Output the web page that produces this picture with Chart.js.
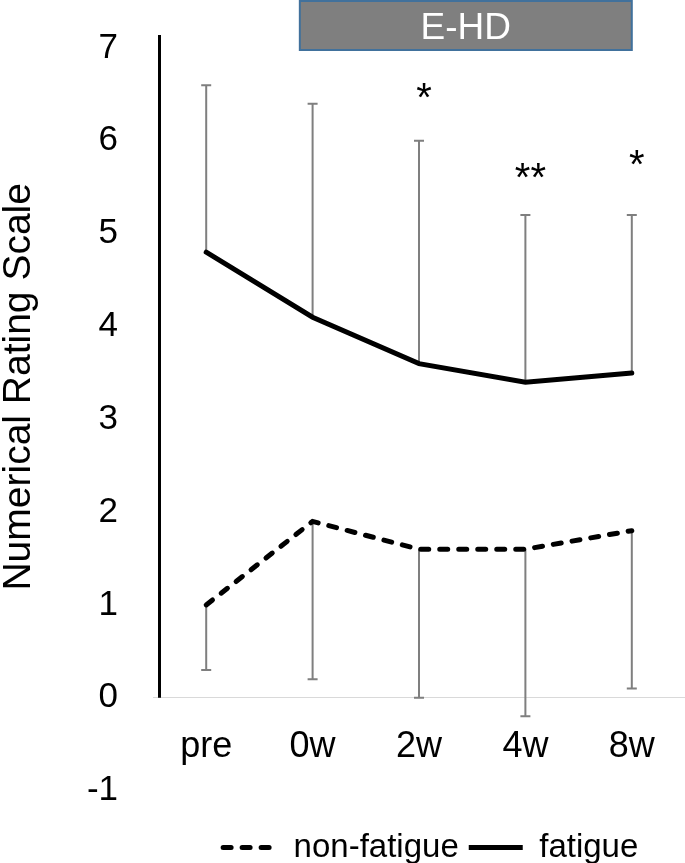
<!DOCTYPE html>
<html>
<head>
<meta charset="utf-8">
<script src="https://cdn.jsdelivr.net/npm/chart.js@4.4.1/dist/chart.umd.min.js"></script>
<style>
html, body { margin: 0; padding: 0; background: #fff; }
</style>
</head>
<body>
<canvas id="chart" width="685" height="863"></canvas>
<script>
const categories = ['pre', '0w', '2w', '4w', '8w'];
const fatigue = [4.8, 4.1, 3.6, 3.4, 3.5];
const fatigueUpper = [6.6, 6.4, 6.0, 5.2, 5.2];
const nonFatigue = [1.0, 1.9, 1.6, 1.6, 1.8];
const nonFatigueLower = [0.3, 0.2, 0.0, -0.2, 0.1];
const sigMarks = ['', '', '*', '**', '*'];
const sigLevel = [null, null, 6.52, 5.65, 5.79];
const yMin = -1, yMax = 7;

const FONT = '"Liberation Sans", Arial, sans-serif';

// error bars: fatigue up, non-fatigue down
const errorBars = {
    id: 'errorBars',
    beforeDatasetsDraw(chart) {
        const ctx = chart.ctx;
        const x = chart.scales.x, y = chart.scales.y;
        ctx.save();
        ctx.strokeStyle = '#7f7f7f';
        ctx.lineWidth = 2;
        const bar = (i, from, to) => {
            const px = x.getPixelForValue(i);
            const y0 = y.getPixelForValue(from), y1 = y.getPixelForValue(to);
            ctx.beginPath();
            ctx.moveTo(px, y0);
            ctx.lineTo(px, y1);
            ctx.moveTo(px - 5, y1);
            ctx.lineTo(px + 5, y1);
            ctx.stroke();
        };
        for (let i = 0; i < categories.length; i++) {
            bar(i, fatigue[i], fatigueUpper[i]);
            bar(i, nonFatigue[i], nonFatigueLower[i]);
        }
        ctx.restore();
    }
};

// y axis line, E-HD band and significance marks
const extras = {
    id: 'extras',
    afterDraw(chart) {
        const ctx = chart.ctx;
        const x = chart.scales.x, y = chart.scales.y;
        const area = chart.chartArea;
        ctx.save();
        // vertical axis line from 0 up
        ctx.strokeStyle = '#000';
        ctx.lineWidth = 3;
        ctx.beginPath();
        ctx.moveTo(area.left + 6.5, y.getPixelForValue(0));
        ctx.lineTo(area.left + 6.5, area.top - 13);
        ctx.stroke();

        // E-HD box
        const bx0 = x.getPixelForValue(0.88), bx1 = x.getPixelForValue(4);
        ctx.fillStyle = '#7f7f7f';
        ctx.fillRect(bx0, 1, bx1 - bx0, 49);
        ctx.strokeStyle = '#41719c';
        ctx.lineWidth = 2;
        ctx.strokeRect(bx0, 1, bx1 - bx0, 49);
        ctx.fillStyle = '#fff';
        ctx.font = '37px ' + FONT;
        ctx.textAlign = 'center';
        ctx.textBaseline = 'alphabetic';
        ctx.fillText('E-HD', (bx0 + bx1) / 2, 39);

        // asterisks
        ctx.fillStyle = '#000';
        ctx.font = '40px ' + FONT;
        for (let i = 0; i < categories.length; i++) {
            if (!sigMarks[i]) continue;
            const px = x.getPixelForValue(i) + 5;
            const py = y.getPixelForValue(sigLevel[i]);
            ctx.fillText(sigMarks[i], px, py + 18);
        }
        ctx.restore();
    }
};

new Chart(document.getElementById('chart'), {
    type: 'line',
    data: {
        labels: categories,
        datasets: [
            {
                label: 'non-fatigue',
                data: nonFatigue,
                borderColor: '#000',
                backgroundColor: '#000',
                borderWidth: 5,
                borderDash: [8, 11],
                borderCapStyle: 'round',
                pointRadius: 0,
                tension: 0
            },
            {
                label: 'fatigue',
                data: fatigue,
                borderColor: '#000',
                backgroundColor: '#000',
                borderWidth: 5,
                borderCapStyle: 'round',
                pointRadius: 0,
                tension: 0
            }
        ]
    },
    options: {
        responsive: false,
        animation: false,
        layout: { padding: { top: 48, right: 0, bottom: -11, left: 0 } },
        scales: {
            x: {
                type: 'category',
                offset: true,
                position: { y: 0 },
                grid: { display: false, drawTicks: false },
                border: { display: true, color: '#d9d9d9', width: 1 },
                ticks: { color: '#000', font: { size: 36, family: FONT }, padding: 28 }
            },
            y: {
                min: yMin,
                max: yMax,
                grid: { display: false, drawTicks: false },
                border: { display: false },
                ticks: { stepSize: 1, color: '#000', font: { size: 35, family: FONT, lineHeight: 0.7 }, padding: 35 },
                title: {
                    display: true,
                    text: '      Numerical Rating Scale',
                    color: '#000',
                    font: { size: 39, family: FONT, lineHeight: 1 },
                    padding: 0
                },
                afterFit(scale) { scale.width = 153; }
            }
        },
        plugins: {
            legend: {
                position: 'bottom',
                fullSize: false,
                align: 'end',
                title: { display: true, text: '', font: { size: 2 }, padding: { top: 0, bottom: 28 } },
                labels: {
                    usePointStyle: true,
                    pointStyle: 'line',
                    pointStyleWidth: 54,
                    color: '#000',
                    font: { size: 33, family: FONT },
                    padding: 10,
                    generateLabels(chart) {
                        const items = Chart.defaults.plugins.legend.labels.generateLabels(chart);
                        items.forEach(it => {
                            const ds = chart.data.datasets[it.datasetIndex];
                            it.lineDash = ds.borderDash || [];
                            it.lineWidth = 5;
                            it.lineCap = ds.borderDash ? 'round' : 'butt';
                            if (!ds.borderDash) it.text = ds.label + '    ';
                        });
                        return items;
                    }
                }
            },
            tooltip: { enabled: false }
        }
    },
    plugins: [errorBars, extras]
});
</script>
</body>
</html>
